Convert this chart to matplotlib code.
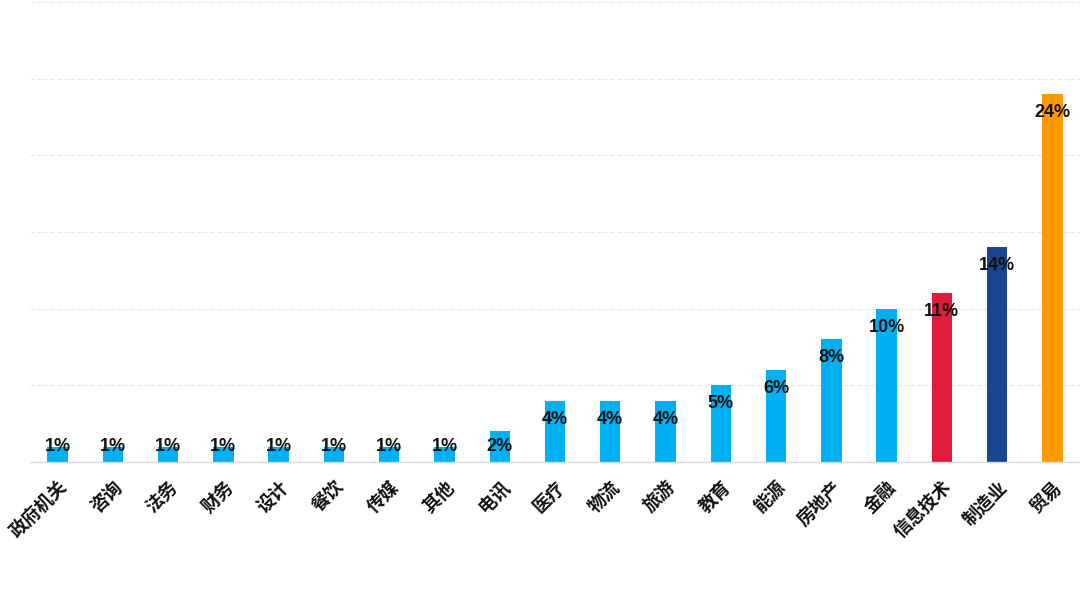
import numpy as np
from matplotlib import pyplot as plt

plt.rcParams['font.family'] = ['Noto Sans CJK SC', 'DejaVu Sans']

hangye = ['政府机关', '咨询', '法务', '财务', '设计', '餐饮', '传媒', '其他', '电讯',
          '医疗', '物流', '旅游', '教育', '能源', '房地产', '金融', '信息技术', '制造业', '贸易']
wartosci = [1, 1, 1, 1, 1, 1, 1, 1, 2, 4, 4, 4, 5, 6, 8, 10, 11, 14, 24]
kolory = ['#00b0f0'] * 16 + ['#e11b3a', '#17478e', '#ff9900']

indexy = np.arange(len(hangye))

fig = plt.figure(figsize=(10.8, 6.06), dpi=100)
ax = fig.add_axes([30 / 1080, 144 / 606, 1050 / 1080, 460 / 606])

ax.bar(indexy, wartosci, width=0.37, color=kolory, zorder=2)

# etykiety w srodku slupka, przy gorze
for x, v in zip(indexy, wartosci):
    ax.text(x, max(v - 1.2, 1.0), f'{v}%', ha='center', va='center', fontsize=13,
            fontweight='bold', family='Liberation Sans', color='#111111', zorder=3)

ax.set_xlim(-0.5, len(hangye) - 0.5)
ax.set_ylim(0, 30)
ax.set_yticks([5, 10, 15, 20, 25, 30])
ax.yaxis.grid(True, linestyle=(0, (4, 2)), color='#e6e6e6', linewidth=0.8, zorder=0)
ax.set_yticklabels([])
ax.tick_params(axis='y', length=0)
ax.tick_params(axis='x', length=0, pad=11)
ax.set_xticks(indexy)
ax.set_xticklabels(hangye, rotation=45, ha='right', rotation_mode='anchor',
                   fontsize=13, fontweight='bold', color='#111111')

for s in ['top', 'right', 'left']:
    ax.spines[s].set_visible(False)
ax.spines['bottom'].set_color('#d9d9d9')
ax.spines['bottom'].set_linewidth(1)

fig.savefig('out.png', dpi=100)
